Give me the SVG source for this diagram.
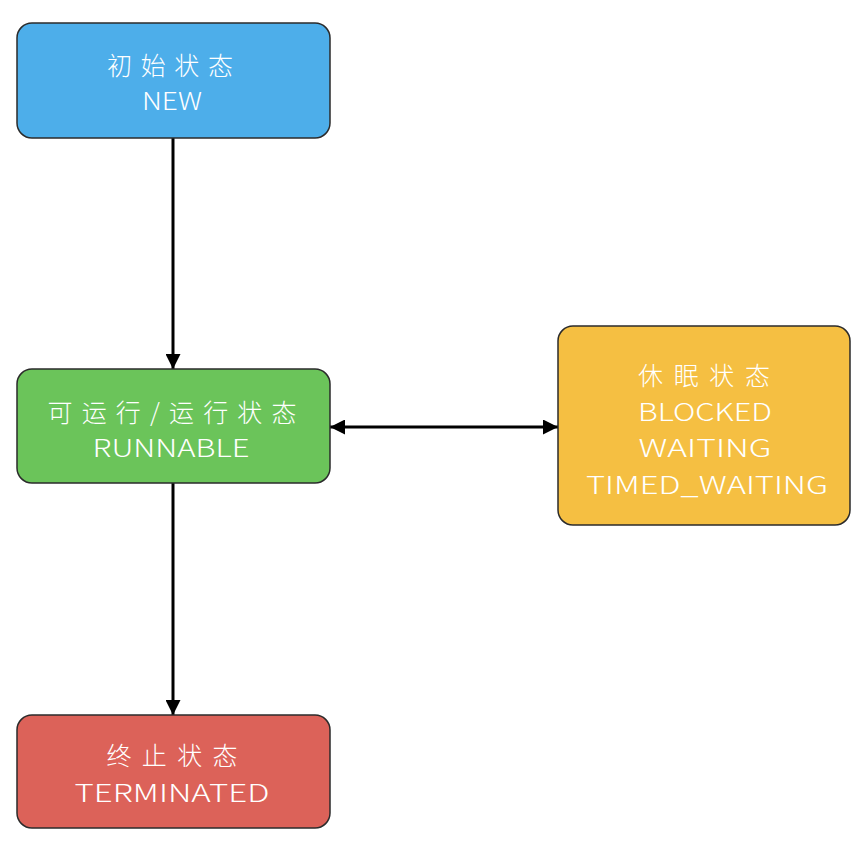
<svg xmlns="http://www.w3.org/2000/svg" width="868" height="858" viewBox="0 0 868 858">
<defs>
<style>
.box{stroke:#2b2b2b;stroke-width:1.5}
.t{font-family:"Noto Sans CJK SC","Noto Sans",sans-serif;font-size:25px;font-weight:300;fill:#ffffff;text-anchor:middle}
.e{stroke:#000;stroke-width:3;fill:none}
</style>
<marker id="ah" viewBox="0 0 10 10" refX="10" refY="5" markerWidth="5" markerHeight="5" markerUnits="strokeWidth" orient="auto-start-reverse">
<path d="M0,0 L10,5 L0,10 Z" fill="#000"/>
</marker>
</defs>
<rect width="868" height="858" fill="#ffffff"/>
<g id="connectors">
<line class="e" x1="173" y1="138" x2="173" y2="369" marker-end="url(#ah)"/>
<line class="e" x1="173" y1="483" x2="173" y2="715" marker-end="url(#ah)"/>
<line class="e" x1="330" y1="427" x2="558" y2="427" marker-start="url(#ah)" marker-end="url(#ah)"/>
</g>
<g id="node-new">
<rect class="box" x="17" y="23" width="313" height="115" rx="15" fill="#4DAEEA"/>
<text class="t" x="170" y="75" textLength="126" lengthAdjust="spacing">初始状态</text>
<text class="t" x="172" y="110" textLength="60" lengthAdjust="spacingAndGlyphs">NEW</text>
</g>
<g id="node-runnable">
<rect class="box" x="17" y="369" width="313" height="114" rx="15" fill="#6BC45A"/>
<text class="t" x="172" y="422" textLength="249" lengthAdjust="spacing">可运行/运行状态</text>
<text class="t" x="171" y="457" textLength="157" lengthAdjust="spacingAndGlyphs">RUNNABLE</text>
</g>
<g id="node-sleep">
<rect class="box" x="558" y="326" width="292" height="199" rx="15" fill="#F5BF42"/>
<text class="t" x="704" y="385" textLength="132" lengthAdjust="spacing">休眠状态</text>
<text class="t" x="705" y="421" textLength="134" lengthAdjust="spacingAndGlyphs">BLOCKED</text>
<text class="t" x="705" y="457" textLength="133" lengthAdjust="spacingAndGlyphs">WAITING</text>
<text class="t" x="707" y="494" textLength="242" lengthAdjust="spacingAndGlyphs">TIMED_WAITING</text>
</g>
<g id="node-terminated">
<rect class="box" x="17" y="715" width="313" height="113" rx="15" fill="#DC6259"/>
<text class="t" x="172" y="765" textLength="131" lengthAdjust="spacing">终止状态</text>
<text class="t" x="172" y="802" textLength="195" lengthAdjust="spacingAndGlyphs">TERMINATED</text>
</g>
</svg>
